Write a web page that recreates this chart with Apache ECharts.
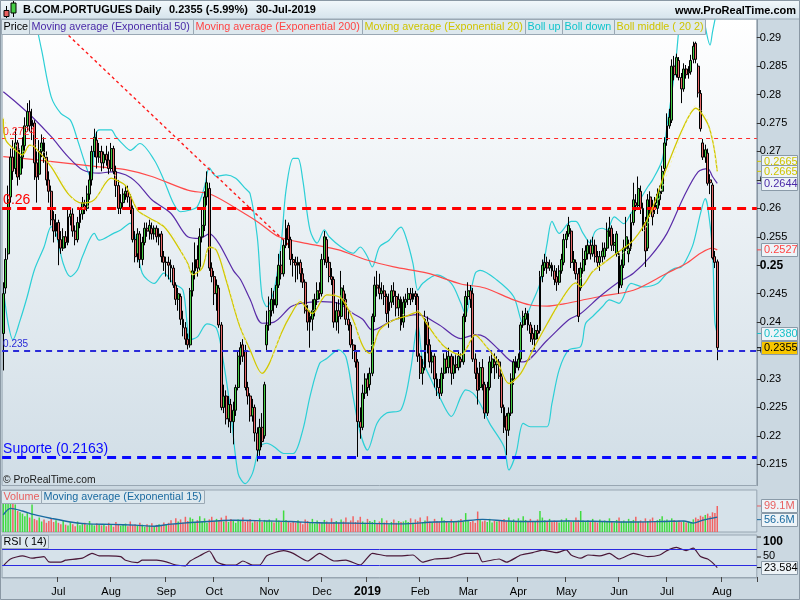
<!DOCTYPE html>
<html><head><meta charset="utf-8">
<script src="https://cdn.jsdelivr.net/npm/echarts@6/dist/echarts.min.js"></script>
<style>html,body{margin:0;padding:0;background:#fff}#c{width:800px;height:600px}</style>
</head><body><div id="c"></div>
<script>
// ---------- DATA ----------
const holidays = ['2018-12-25','2018-12-26','2019-01-01','2019-04-19','2019-04-22','2019-05-01'];
const firstDate = '2018-05-30';
const totalSlots = 315; // 299 trading days + empty future slots
const monthNames = ['Jan','Feb','Mar','Apr','May','Jun','Jul','Aug','Sep','Oct','Nov','Dec'];

const open = [
0.2380,0.2460,0.2520,0.2620,0.2690,0.2670,0.2715,0.2660,0.2690,0.2710,
0.2745,0.2770,0.2745,0.2750,0.2680,0.2660,0.2700,0.2715,0.2690,0.2650,
0.2630,0.2580,0.2560,0.2575,0.2545,0.2530,0.2550,0.2540,0.2585,0.2590,
0.2560,0.2545,0.2575,0.2590,0.2605,0.2600,0.2625,0.2650,0.2700,0.2720,
0.2690,0.2700,0.2680,0.2695,0.2685,0.2670,0.2705,0.2665,0.2640,0.2600,
0.2610,0.2625,0.2630,0.2620,0.2600,0.2545,0.2520,0.2555,0.2510,0.2540,
0.2565,0.2560,0.2565,0.2555,0.2565,0.2550,0.2555,0.2515,0.2505,0.2505,
0.2500,0.2495,0.2465,0.2440,0.2445,0.2405,0.2390,0.2370,0.2360,0.2455,
0.2490,0.2510,0.2495,0.2550,0.2570,0.2620,0.2635,0.2495,0.2480,0.2450,
0.2460,0.2395,0.2250,0.2270,0.2230,0.2255,0.2225,0.2245,0.2285,0.2340,
0.2360,0.2350,0.2285,0.2270,0.2235,0.2250,0.2205,0.2175,0.2215,0.2200,
0.2360,0.2395,0.2420,0.2440,0.2430,0.2465,0.2500,0.2485,0.2535,0.2570,
0.2545,0.2510,0.2505,0.2500,0.2505,0.2485,0.2470,0.2420,0.2400,0.2405,
0.2420,0.2440,0.2455,0.2450,0.2510,0.2545,0.2505,0.2480,0.2475,0.2400,
0.2420,0.2410,0.2455,0.2440,0.2405,0.2395,0.2360,0.2350,0.2330,0.2225,
0.2215,0.2275,0.2300,0.2290,0.2310,0.2410,0.2465,0.2460,0.2450,0.2455,
0.2445,0.2420,0.2435,0.2455,0.2445,0.2425,0.2440,0.2400,0.2435,0.2440,
0.2450,0.2440,0.2450,0.2445,0.2340,0.2310,0.2320,0.2400,0.2360,0.2330,
0.2340,0.2300,0.2285,0.2275,0.2310,0.2335,0.2320,0.2340,0.2310,0.2325,
0.2320,0.2335,0.2330,0.2410,0.2445,0.2455,0.2450,0.2335,0.2310,0.2285,
0.2320,0.2290,0.2240,0.2285,0.2320,0.2330,0.2325,0.2330,0.2305,0.2250,
0.2235,0.2210,0.2240,0.2300,0.2330,0.2320,0.2335,0.2395,0.2405,0.2415,
0.2395,0.2380,0.2370,0.2385,0.2385,0.2480,0.2495,0.2505,0.2495,0.2500,
0.2490,0.2480,0.2470,0.2490,0.2505,0.2545,0.2555,0.2560,0.2505,0.2505,
0.2485,0.2460,0.2490,0.2510,0.2520,0.2535,0.2520,0.2535,0.2515,0.2505,
0.2515,0.2515,0.2530,0.2560,0.2565,0.2535,0.2520,0.2520,0.2465,0.2500,
0.2530,0.2520,0.2530,0.2575,0.2610,0.2605,0.2630,0.2600,0.2575,0.2530,
0.2620,0.2600,0.2610,0.2600,0.2615,0.2630,0.2670,0.2720,0.2745,0.2755,
0.2850,0.2835,0.2860,0.2830,0.2810,0.2845,0.2838,0.2840,0.2862,0.2890,
0.2850,0.2802,0.2715,0.2690,0.2697,0.2650,0.2641,0.2515,0.2506];

const high = [
0.2470,0.2530,0.2640,0.2705,0.2720,0.2740,0.2720,0.2705,0.2725,0.2760,
0.2785,0.2790,0.2775,0.2755,0.2700,0.2720,0.2730,0.2725,0.2700,0.2665,
0.2640,0.2595,0.2590,0.2580,0.2560,0.2565,0.2560,0.2600,0.2600,0.2600,
0.2570,0.2585,0.2600,0.2620,0.2615,0.2640,0.2665,0.2710,0.2740,0.2735,
0.2715,0.2710,0.2700,0.2710,0.2700,0.2715,0.2710,0.2675,0.2650,0.2625,
0.2635,0.2640,0.2640,0.2625,0.2605,0.2560,0.2565,0.2560,0.2550,0.2575,
0.2575,0.2580,0.2575,0.2570,0.2570,0.2565,0.2560,0.2525,0.2515,0.2515,
0.2510,0.2500,0.2470,0.2460,0.2450,0.2420,0.2400,0.2380,0.2460,0.2505,
0.2540,0.2535,0.2565,0.2600,0.2630,0.2665,0.2645,0.2505,0.2490,0.2475,
0.2465,0.2400,0.2290,0.2280,0.2270,0.2265,0.2260,0.2290,0.2350,0.2365,
0.2370,0.2360,0.2295,0.2275,0.2265,0.2255,0.2215,0.2230,0.2240,0.2295,
0.2420,0.2445,0.2460,0.2455,0.2480,0.2520,0.2525,0.2545,0.2580,0.2575,
0.2550,0.2520,0.2515,0.2515,0.2510,0.2495,0.2475,0.2430,0.2420,0.2440,
0.2450,0.2470,0.2470,0.2520,0.2560,0.2550,0.2515,0.2495,0.2480,0.2435,
0.2440,0.2490,0.2465,0.2450,0.2420,0.2400,0.2370,0.2360,0.2335,0.2250,
0.2290,0.2310,0.2310,0.2320,0.2415,0.2480,0.2490,0.2485,0.2470,0.2465,
0.2450,0.2450,0.2465,0.2470,0.2455,0.2450,0.2445,0.2445,0.2450,0.2460,
0.2460,0.2460,0.2455,0.2450,0.2345,0.2335,0.2420,0.2410,0.2370,0.2350,
0.2345,0.2310,0.2300,0.2320,0.2345,0.2350,0.2355,0.2345,0.2340,0.2345,
0.2350,0.2345,0.2415,0.2455,0.2470,0.2465,0.2460,0.2345,0.2320,0.2330,
0.2335,0.2295,0.2295,0.2340,0.2350,0.2345,0.2340,0.2335,0.2310,0.2255,
0.2240,0.2250,0.2310,0.2335,0.2340,0.2345,0.2400,0.2420,0.2425,0.2420,
0.2400,0.2390,0.2395,0.2395,0.2490,0.2510,0.2520,0.2515,0.2510,0.2505,
0.2500,0.2495,0.2500,0.2520,0.2555,0.2560,0.2585,0.2565,0.2525,0.2510,
0.2495,0.2505,0.2530,0.2535,0.2545,0.2545,0.2550,0.2545,0.2525,0.2525,
0.2540,0.2540,0.2575,0.2585,0.2570,0.2555,0.2560,0.2525,0.2510,0.2545,
0.2585,0.2545,0.2590,0.2645,0.2625,0.2656,0.2640,0.2610,0.2585,0.2625,
0.2630,0.2615,0.2620,0.2635,0.2640,0.2675,0.2725,0.2767,0.2775,0.2862,
0.2868,0.2872,0.2866,0.2838,0.2855,0.2852,0.2850,0.2870,0.2893,0.2893,
0.2855,0.2808,0.2722,0.2712,0.2705,0.2660,0.2645,0.2525,0.2510];

const low = [
0.2315,0.2450,0.2510,0.2610,0.2650,0.2660,0.2640,0.2650,0.2670,0.2700,
0.2735,0.2735,0.2720,0.2650,0.2610,0.2650,0.2690,0.2680,0.2640,0.2610,
0.2570,0.2540,0.2550,0.2500,0.2520,0.2525,0.2530,0.2535,0.2570,0.2550,
0.2535,0.2540,0.2565,0.2580,0.2590,0.2595,0.2615,0.2640,0.2690,0.2670,
0.2680,0.2665,0.2670,0.2675,0.2660,0.2665,0.2660,0.2620,0.2590,0.2590,
0.2600,0.2615,0.2610,0.2590,0.2540,0.2505,0.2505,0.2495,0.2500,0.2535,
0.2550,0.2545,0.2545,0.2545,0.2540,0.2535,0.2505,0.2490,0.2480,0.2475,
0.2470,0.2460,0.2430,0.2420,0.2395,0.2375,0.2360,0.2352,0.2355,0.2445,
0.2475,0.2480,0.2490,0.2540,0.2560,0.2605,0.2490,0.2470,0.2430,0.2420,
0.2390,0.2245,0.2240,0.2220,0.2215,0.2205,0.2185,0.2235,0.2280,0.2325,
0.2330,0.2280,0.2255,0.2225,0.2225,0.2190,0.2155,0.2165,0.2180,0.2195,
0.2350,0.2385,0.2410,0.2415,0.2425,0.2460,0.2475,0.2480,0.2530,0.2530,
0.2500,0.2480,0.2470,0.2475,0.2470,0.2460,0.2415,0.2385,0.2355,0.2385,
0.2410,0.2430,0.2440,0.2445,0.2500,0.2495,0.2470,0.2465,0.2390,0.2385,
0.2380,0.2405,0.2430,0.2395,0.2385,0.2355,0.2335,0.2320,0.2163,0.2195,
0.2210,0.2265,0.2270,0.2280,0.2305,0.2400,0.2445,0.2440,0.2440,0.2430,
0.2400,0.2390,0.2425,0.2430,0.2410,0.2405,0.2385,0.2390,0.2425,0.2430,
0.2430,0.2435,0.2430,0.2330,0.2300,0.2290,0.2315,0.2345,0.2320,0.2310,
0.2285,0.2270,0.2265,0.2270,0.2300,0.2310,0.2310,0.2290,0.2300,0.2310,
0.2315,0.2320,0.2325,0.2400,0.2430,0.2425,0.2330,0.2300,0.2255,0.2280,
0.2280,0.2230,0.2235,0.2280,0.2310,0.2300,0.2310,0.2300,0.2240,0.2205,
0.2166,0.2200,0.2235,0.2290,0.2310,0.2315,0.2330,0.2390,0.2395,0.2385,
0.2365,0.2360,0.2350,0.2370,0.2380,0.2470,0.2490,0.2485,0.2490,0.2480,
0.2465,0.2455,0.2465,0.2485,0.2500,0.2530,0.2550,0.2495,0.2490,0.2475,
0.2400,0.2455,0.2485,0.2500,0.2510,0.2510,0.2515,0.2505,0.2495,0.2490,
0.2505,0.2510,0.2525,0.2550,0.2525,0.2525,0.2515,0.2450,0.2460,0.2495,
0.2525,0.2505,0.2525,0.2570,0.2595,0.2600,0.2590,0.2560,0.2497,0.2525,
0.2585,0.2570,0.2590,0.2590,0.2605,0.2625,0.2665,0.2710,0.2740,0.2750,
0.2825,0.2830,0.2825,0.2785,0.2805,0.2828,0.2828,0.2835,0.2855,0.2855,
0.2795,0.2735,0.2685,0.2680,0.2640,0.2625,0.2510,0.2495,0.2333];

const close = [
0.2450,0.2510,0.2615,0.2690,0.2665,0.2715,0.2655,0.2690,0.2710,0.2745,
0.2770,0.2745,0.2755,0.2680,0.2655,0.2700,0.2715,0.2690,0.2650,0.2630,
0.2580,0.2560,0.2575,0.2545,0.2530,0.2550,0.2540,0.2585,0.2590,0.2560,
0.2545,0.2575,0.2590,0.2610,0.2600,0.2625,0.2650,0.2700,0.2725,0.2690,
0.2700,0.2680,0.2695,0.2685,0.2670,0.2705,0.2665,0.2640,0.2600,0.2610,
0.2625,0.2630,0.2620,0.2600,0.2545,0.2515,0.2555,0.2510,0.2540,0.2565,
0.2560,0.2570,0.2555,0.2565,0.2550,0.2555,0.2515,0.2505,0.2505,0.2500,
0.2495,0.2465,0.2440,0.2450,0.2405,0.2390,0.2370,0.2360,0.2455,0.2490,
0.2510,0.2495,0.2550,0.2570,0.2620,0.2645,0.2495,0.2480,0.2450,0.2465,
0.2395,0.2250,0.2270,0.2230,0.2255,0.2225,0.2245,0.2285,0.2340,0.2355,
0.2340,0.2285,0.2270,0.2235,0.2250,0.2205,0.2175,0.2215,0.2190,0.2290,
0.2395,0.2420,0.2440,0.2430,0.2465,0.2500,0.2485,0.2535,0.2565,0.2545,
0.2510,0.2505,0.2500,0.2505,0.2485,0.2470,0.2420,0.2400,0.2410,0.2420,
0.2440,0.2455,0.2450,0.2510,0.2550,0.2505,0.2480,0.2475,0.2400,0.2420,
0.2410,0.2460,0.2440,0.2405,0.2395,0.2360,0.2350,0.2330,0.2225,0.2215,
0.2275,0.2300,0.2285,0.2310,0.2410,0.2465,0.2460,0.2450,0.2455,0.2445,
0.2415,0.2435,0.2455,0.2445,0.2425,0.2440,0.2395,0.2435,0.2440,0.2450,
0.2440,0.2450,0.2445,0.2340,0.2310,0.2320,0.2405,0.2360,0.2330,0.2340,
0.2300,0.2285,0.2275,0.2310,0.2335,0.2320,0.2340,0.2310,0.2325,0.2320,
0.2340,0.2330,0.2410,0.2445,0.2455,0.2440,0.2335,0.2310,0.2280,0.2320,
0.2290,0.2240,0.2285,0.2330,0.2335,0.2325,0.2330,0.2305,0.2250,0.2215,
0.2210,0.2240,0.2300,0.2330,0.2320,0.2335,0.2395,0.2410,0.2415,0.2395,
0.2380,0.2370,0.2385,0.2380,0.2480,0.2500,0.2505,0.2495,0.2500,0.2490,
0.2475,0.2470,0.2490,0.2510,0.2545,0.2555,0.2570,0.2505,0.2510,0.2485,
0.2410,0.2495,0.2510,0.2525,0.2535,0.2520,0.2535,0.2515,0.2505,0.2515,
0.2525,0.2530,0.2560,0.2565,0.2535,0.2540,0.2555,0.2460,0.2500,0.2530,
0.2550,0.2530,0.2575,0.2615,0.2605,0.2635,0.2600,0.2570,0.2525,0.2615,
0.2595,0.2585,0.2600,0.2625,0.2630,0.2665,0.2715,0.2745,0.2760,0.2850,
0.2835,0.2865,0.2830,0.2810,0.2845,0.2835,0.2840,0.2860,0.2885,0.2862,
0.2803,0.2740,0.2690,0.2703,0.2644,0.2645,0.2513,0.2505,0.2355];

// volume in millions
const volume = [
125,140,130,115,110,105, 80,75,70,60,72,55, 105,
50,45,55,40,48,35,42,50,38,45,
35,30,45,28,25,38,30,22,40,26,30,35,28,42,30,25,33,28,
25,30,22,35,27,20,38,30,24,28,32,22,40,26,30,24,35,28,20,30,25,33,22,27,30,24,36,28,
35,45,30,52,40,48,36,58,42,55,50,38,45,60,40,52,35,48,58,42,50,
45,55,40,62,38,50,45,35,48,42,55,38,45,50,36,44,40,52,38,46,42,
48,40,36,52,44,38,82,46,40,35,
40,35,45,38,30,48,42,36,50,32,44,38,35,46,40,33,52,38,42,35,48,40,55,36,44,60,38,45,58,40,35,50,42,38,46,33,40,52,36,44,30,38,48,35,42,38,
40,45,38,52,35,48,42,55,38,44,60,40,36,50,42,38,55,45,40,36,48,42,38,44,50,40,72,45,38,42,35,78,48,40,44,38,50,36,42,40,46,
45,50,40,55,42,48,38,52,44,60,46,40,50,42,38,48,80,55,45,40,50,38,44,42,36,48,40,52,45,38,42,55,46,80,44,
40,45,38,50,42,36,48,40,44,38,52,42,36,46,55,40,44,38,50,42,46,58,40,44,38,52,42,48,55,40,45,50,60,44,48,42,52,46,40,44,38,42,36,40,38,
48,55,50,62,58,65,70,60,75,72,99.1];

// indicator readings [trading-day index, value]
const ema200 = [[0,0.2691],[12,0.2686],[27,0.2679],[40,0.2673],[51,0.2668],[62,0.2656],[77,0.2632],[87,0.2624],[101,0.2590],[107,0.2574],[115,0.2550],[127,0.2538],[140,0.2527],[151,0.2510],[163,0.2497],[177,0.2486],[191,0.2467],[201,0.2460],[213,0.2439],[220,0.2430],[227,0.2428],[234,0.2432],[241,0.2438],[249,0.2445],[263,0.2456],[277,0.2486],[285,0.2503],[291,0.2521],[296,0.2530],[298,0.2527]];
const ema50 = [[0,0.2805],[6,0.2784],[12,0.2761],[20,0.2726],[27,0.2691],[33,0.2668],[40,0.2662],[45,0.2664],[51,0.2659],[56,0.2644],[62,0.2615],[70,0.2591],[77,0.2550],[82,0.2547],[86,0.2555],[90,0.2538],[96,0.2491],[99,0.2475],[103,0.2440],[108,0.2398],[113,0.2400],[120,0.2427],[124,0.2433],[133,0.2436],[140,0.2433],[146,0.2415],[150,0.2405],[154,0.2386],[163,0.2404],[173,0.2413],[182,0.2395],[191,0.2371],[197,0.2378],[201,0.2374],[207,0.2351],[213,0.2330],[217,0.2330],[227,0.2368],[236,0.2404],[241,0.2415],[249,0.2445],[256,0.2468],[263,0.2486],[270,0.2515],[277,0.2556],[284,0.2620],[290,0.2664],[294,0.2670],[296,0.2656],[298,0.2644]];
const ema20 = [[0,0.2758],[1,0.2720],[6,0.2699],[8,0.2694],[11,0.2711],[13,0.2708],[20,0.2673],[27,0.2626],[33,0.2609],[38,0.2615],[45,0.2653],[47,0.2650],[51,0.2640],[56,0.2597],[61,0.2583],[67,0.2568],[72,0.2539],[77,0.2503],[79,0.2483],[83,0.2495],[86,0.2532],[89,0.2526],[93,0.2474],[97,0.2415],[99,0.2389],[103,0.2351],[108,0.2310],[111,0.2327],[116,0.2380],[120,0.2413],[124,0.2436],[127,0.2422],[129,0.2415],[135,0.2448],[141,0.2442],[146,0.2404],[149,0.2368],[151,0.2351],[153,0.2345],[157,0.2386],[163,0.2404],[168,0.2410],[173,0.2418],[177,0.2395],[184,0.2357],[191,0.2342],[197,0.2377],[201,0.2360],[206,0.2333],[211,0.2292],[216,0.2310],[221,0.2351],[227,0.2397],[232,0.2433],[239,0.2469],[241,0.2462],[246,0.2489],[251,0.2505],[256,0.2521],[263,0.2544],[270,0.2591],[277,0.2673],[284,0.2744],[289,0.2776],[294,0.2749],[296,0.2720],[297,0.2697],[298,0.2665]];
const bollMid = [[0,0.2760],[8,0.2700],[13,0.2712],[20,0.2680],[27,0.2630],[33,0.2600],[38,0.2612],[45,0.2660],[51,0.2645],[56,0.2600],[61,0.2580],[67,0.2570],[72,0.2545],[77,0.2500],[80,0.2480],[86,0.2528],[89,0.2530],[93,0.2480],[97,0.2420],[103,0.2345],[108,0.2300],[111,0.2320],[116,0.2385],[120,0.2420],[124,0.2440],[129,0.2420],[135,0.2450],[141,0.2445],[146,0.2410],[151,0.2345],[157,0.2380],[163,0.2405],[173,0.2420],[177,0.2400],[184,0.2355],[191,0.2340],[197,0.2380],[201,0.2360],[206,0.2330],[211,0.2290],[216,0.2305],[221,0.2345],[227,0.2390],[232,0.2430],[239,0.2470],[246,0.2490],[251,0.2505],[256,0.2515],[263,0.2535],[270,0.2580],[277,0.2660],[284,0.2740],[289,0.2780],[294,0.2755],[298,0.2665]];
const bollUp = [[0,0.3050],[8,0.3000],[13,0.2935],[16,0.2878],[20,0.2796],[24,0.2767],[28,0.2755],[31,0.2720],[35,0.2668],[37,0.2650],[38,0.2720],[40,0.2738],[45,0.2738],[47,0.2726],[51,0.2708],[53,0.2702],[57,0.2714],[63,0.2685],[67,0.2650],[71,0.2609],[74,0.2594],[78,0.2597],[81,0.2603],[84,0.2638],[86,0.2671],[89,0.2656],[93,0.2659],[97,0.2653],[101,0.2635],[103,0.2626],[106,0.2550],[108,0.2445],[110,0.2427],[113,0.2456],[116,0.2539],[118,0.2632],[121,0.2688],[123,0.2688],[125,0.2650],[128,0.2562],[131,0.2539],[134,0.2562],[136,0.2550],[141,0.2532],[146,0.2521],[149,0.2532],[152,0.2515],[154,0.2497],[157,0.2532],[161,0.2544],[166,0.2567],[168,0.2550],[171,0.2503],[173,0.2456],[175,0.2468],[181,0.2483],[187,0.2468],[191,0.2433],[193,0.2413],[195,0.2450],[197,0.2486],[199,0.2491],[206,0.2474],[213,0.2445],[217,0.2397],[220,0.2427],[224,0.2468],[227,0.2539],[229,0.2577],[232,0.2556],[237,0.2577],[239,0.2577],[242,0.2556],[245,0.2539],[247,0.2559],[250,0.2565],[252,0.2562],[255,0.2585],[259,0.2573],[262,0.2591],[264,0.2603],[269,0.2638],[271,0.2650],[275,0.2685],[277,0.2744],[279,0.2802],[281,0.2872],[282,0.2915],[284,0.2970],[288,0.3000],[292,0.2940],[295,0.2887],[296,0.2910],[297,0.2931],[298,0.2950]];
const bollDown = [[0,0.2460],[2,0.2398],[4,0.2369],[7,0.2403],[10,0.2445],[13,0.2492],[17,0.2532],[20,0.2568],[22,0.2556],[25,0.2503],[28,0.2480],[31,0.2492],[33,0.2515],[38,0.2556],[40,0.2544],[46,0.2556],[49,0.2562],[53,0.2574],[55,0.2550],[58,0.2486],[63,0.2468],[67,0.2486],[71,0.2468],[75,0.2456],[78,0.2369],[81,0.2374],[85,0.2397],[89,0.2389],[92,0.2327],[95,0.2240],[98,0.2134],[101,0.2116],[104,0.2134],[107,0.2181],[110,0.2187],[113,0.2181],[117,0.2169],[121,0.2169],[125,0.2210],[128,0.2269],[132,0.2327],[135,0.2336],[140,0.2351],[143,0.2339],[146,0.2269],[149,0.2205],[152,0.2175],[156,0.2222],[160,0.2240],[166,0.2246],[170,0.2316],[173,0.2397],[175,0.2333],[178,0.2304],[182,0.2269],[187,0.2234],[191,0.2269],[193,0.2281],[196,0.2275],[199,0.2257],[203,0.2222],[209,0.2181],[211,0.2140],[214,0.2169],[217,0.2222],[220,0.2216],[224,0.2216],[227,0.2216],[229,0.2257],[232,0.2316],[236,0.2351],[241,0.2357],[243,0.2397],[246,0.2410],[250,0.2427],[253,0.2439],[257,0.2433],[262,0.2468],[267,0.2462],[273,0.2468],[277,0.2486],[280,0.2494],[283,0.2497],[285,0.2509],[288,0.2538],[291,0.2591],[293,0.2617],[294,0.2603],[296,0.2527],[297,0.2400],[298,0.2380]];
const volMA = [[0,65],[3,90],[8,80],[13,66],[20,52],[28,38],[35,31],[45,29],[55,26],[63,22],[70,30],[82,38],[96,45],[110,42],[120,40],[131,35],[145,34],[166,31],[180,38],[190,40],[200,48],[210,42],[221,40],[235,42],[250,40],[263,38],[275,40],[284,42],[288,34],[292,45],[298,56.6]];
const rsi = [[0,28],[3,45],[8,53],[12,47],[17,51],[19,38],[24,37],[26,42],[33,47],[37,59],[40,53],[44,53],[49,51],[51,42],[56,36],[58,42],[64,42],[68,38],[72,30],[76,28],[78,40],[82,53],[86,65],[89,38],[93,30],[97,30],[100,40],[104,30],[107,30],[110,53],[117,66],[121,59],[127,40],[132,59],[138,40],[143,42],[149,30],[154,59],[160,53],[166,53],[171,55],[175,37],[180,45],[186,47],[193,59],[198,59],[200,38],[207,45],[210,37],[216,55],[221,61],[225,67],[231,61],[235,68],[237,55],[241,47],[244,55],[249,53],[253,59],[257,45],[263,59],[269,51],[274,55],[277,66],[281,74],[285,66],[288,72],[291,51],[294,45],[296,36],[298,23.584]];

const priceTicks = [0.215,0.22,0.225,0.23,0.235,0.24,0.245,0.25,0.255,0.26,0.265,0.27,0.275,0.28,0.285,0.29];
const levels = {resist: 0.2723, resistLabel: '0.2724', mid: 0.26, support1: 0.235, support2: 0.2163};
const trendline = [[20, 0.2933], [120, 0.2532]]; // [trading-day index, price]
const lastPrice = [
  {v: 0.2665, t: '0.2665', c: '#cfc400', dy: -10},
  {v: 0.2665, t: '0.2665', c: '#cfc400', dy: 0},
  {v: 0.2644, t: '0.2644', c: '#4a2aa8', dy: 0},
  {v: 0.2527, t: '0.2527', c: '#ff4444', dy: 0},
  {v: 0.2380, t: '0.2380', c: '#18c0c8', dy: 0},
  {v: 0.2355, t: '0.2355', c: '#000000', dy: 0, bg: '#f7c600'}
];
const lastVol = [{v: 99.1, t: '99.1M', c: '#e86060', dy: 0}, {v: 56.6, t: '56.6M', c: '#1a6aa0', dy: 2.5}];
const lastRsi = 23.584;

// ---------- BUILD ----------
function tradingDays(start, count) {
  const out = []; const d = new Date(start + 'T00:00:00Z');
  while (out.length < count) {
    const w = d.getUTCDay(); const s = d.toISOString().slice(0, 10);
    if (w !== 0 && w !== 6 && !holidays.includes(s)) out.push(s);
    d.setUTCDate(d.getUTCDate() + 1);
  }
  return out;
}
const dates = tradingDays(firstDate, totalSlots);
const isMonthStart = (i) => i > 5 && dates[i].slice(0, 7) !== dates[i - 1].slice(0, 7);
const ohlc = open.map((o, i) => [o, close[i], low[i], high[i]]);
const GREEN = '#44cc44', RED = '#e86a6a';
const volData = volume.map((v, i) => ({value: v, itemStyle: {color: close[i] >= open[i] ? '#3fdc3f' : '#f26262'}}));
const FONT = '"Liberation Sans", Arial, sans-serif';

const L = 2.1, W = 754.7;
const grids = [
  {left: L, top: 19, width: W, height: 466.5},
  {left: L, top: 490, width: W, height: 42},
  {left: L, top: 535, width: W, height: 43}
].map((g, k) => Object.assign(g, {show: true, borderColor: '#98a6b2', borderWidth: 1, outerBoundsMode: 'none', containLabel: false,
  backgroundColor: k === 0 ? {type: 'linear', x: 0, y: 0, x2: 0, y2: 1, colorStops: [{offset: 0, color: '#ffffff'}, {offset: 1, color: '#d0dde6'}]} : '#d6e2ea'}));

const catAxis = (gi, showLabels) => ({
  type: 'category', gridIndex: gi, data: dates, boundaryGap: true,
  axisLine: {show: showLabels, lineStyle: {color: '#98a6b2'}},
  axisTick: {show: showLabels, interval: (i) => isMonthStart(i), length: 5, lineStyle: {color: '#444'}},
  axisLabel: {show: showLabels, interval: (i) => isMonthStart(i),
    color: '#000', fontSize: 11, fontFamily: FONT, margin: 8,
    formatter: (v) => { const m = +v.slice(5, 7); return m === 1 ? '{b|' + v.slice(0, 4) + '}' : monthNames[m - 1]; },
    rich: {b: {fontWeight: 'bold', fontSize: 12, fontFamily: FONT, color: '#000'}}},
  splitLine: {show: false}
});

const lineS = (data, color, width, z, extra) => Object.assign({
  type: 'line', xAxisIndex: 0, yAxisIndex: 0, data, showSymbol: false, symbol: 'none', smooth: 0.3,
  lineStyle: {color, width}, z, silent: true
}, extra || {});

const hl = (y, color, width, dash, text, size) => ({
  yAxis: y, lineStyle: {color, width, type: dash},
  label: {show: true, formatter: text, position: 'insideStartTop', distance: [1, 1], color, fontSize: size, fontFamily: FONT}
});

const option = {
  animation: false,
  backgroundColor: '#cbd8e1',
  grid: grids,
  xAxis: [catAxis(0, false), catAxis(1, false), catAxis(2, true)],
  yAxis: [
    {type: 'value', gridIndex: 0, position: 'right', min: 0.21127, max: 0.29329,
      axisLine: {show: true, lineStyle: {color: '#8a98a4'}},
      axisTick: {show: true, length: 4, customValues: priceTicks, lineStyle: {color: '#333'}},
      axisLabel: {customValues: priceTicks, color: '#000', fontSize: 11, fontFamily: FONT, margin: 3,
        formatter: (v) => { const s = (+(+v).toFixed(4)).toString(); return s === '0.25' ? '{b|0.25}' : s; },
        rich: {b: {fontWeight: 'bold', fontSize: 12, fontFamily: FONT, color: '#000'}}},
      splitLine: {show: false}},
    {type: 'value', gridIndex: 1, min: 0, max: 160, show: false, splitLine: {show: false}},
    {type: 'value', gridIndex: 2, min: -2.5, max: 105, show: false, splitLine: {show: false}}
  ],
  series: [
    lineS(bollUp, '#2ccfd6', 1.2, 3),
    lineS(bollDown, '#2ccfd6', 1.2, 3),
    lineS(ema200, '#ff4a4a', 1.2, 3),
    lineS(ema50, '#5a2ca8', 1.2, 3),
    // resistance trendline (dotted red diagonal)
    {type: 'line', xAxisIndex: 0, yAxisIndex: 0, data: trendline, showSymbol: false, symbol: 'none', smooth: false,
      lineStyle: {color: '#ff1a1a', width: 1.4, type: [3, 3]}, z: 3, silent: true},
    {type: 'candlestick', xAxisIndex: 0, yAxisIndex: 0, data: ohlc, barWidth: 2.4, z: 4, silent: true,
      itemStyle: {color: GREEN, color0: RED, borderColor: '#000', borderColor0: '#000', borderWidth: 1},
      markLine: {silent: true, symbol: ['none', 'none'], animation: false, precision: 5,
        data: [
          hl(levels.resist, '#ff2a2a', 1, [4, 4], levels.resistLabel, 10.5),
          hl(levels.mid, '#ff0000', 3, [9, 6], '0.26', 14),
          hl(levels.support1, '#2a2ad8', 2, [6, 5], '0.235', 10),
          hl(levels.support2, '#0a0aff', 3, [9, 6], 'Suporte (0.2163)', 14)
        ]}},
    lineS(ema20, '#d2c800', 1.3, 5),
    lineS(bollMid, '#f4f0a8', 1, 6, {lineStyle: {color: '#f6f2b0', width: 1, type: [2, 3]}}),
    {type: 'bar', xAxisIndex: 1, yAxisIndex: 1, data: volData, barWidth: 1.5, silent: true, z: 3},
    {type: 'line', xAxisIndex: 1, yAxisIndex: 1, data: volMA, showSymbol: false, symbol: 'none', smooth: 0.3,
      lineStyle: {color: '#1a6aa0', width: 1.4}, z: 4, silent: true},
    {type: 'line', xAxisIndex: 2, yAxisIndex: 2, data: rsi, showSymbol: false, symbol: 'none', smooth: 0.2,
      lineStyle: {color: '#4a1838', width: 1.2}, z: 4, silent: true,
      markLine: {silent: true, symbol: ['none', 'none'], label: {show: false}, precision: 2,
        lineStyle: {color: '#2a2ae0', width: 1, type: 'solid'}, data: [{yAxis: 70}, {yAxis: 30}]}}
  ]
};

const chart = echarts.init(document.getElementById('c'), null, {renderer: 'canvas', width: 800, height: 600});
chart.setOption(option);

// ---------- OVERLAY (header, legends, value boxes) ----------
const T = (x, y, text, color, size, opts) => ({
  type: 'text', x, y, silent: true, z: 120,
  style: {text, fill: color, font: (opts && opts.bold ? 'bold ' : '') + size + 'px ' + FONT,
    textAlign: (opts && opts.align) || 'left', align: (opts && opts.align) || 'left',
    textVerticalAlign: 'middle', verticalAlign: 'middle'}
});
const R = (x, y, w, h, fill, stroke, z) => ({type: 'rect', silent: true, z: z || 110,
  shape: {x, y, width: w, height: h}, style: {fill, stroke: stroke || null, lineWidth: 1}});
const Ln = (x1, y1, x2, y2, stroke, w, z) => ({type: 'line', silent: true, z: z || 115,
  shape: {x1, y1, x2, y2}, style: {stroke, lineWidth: w || 1}});

const g = [];
// header
g.push({type: 'rect', silent: true, z: 110, shape: {x: 0, y: 0, width: 800, height: 19},
  style: {fill: {type: 'linear', x: 0, y: 0, x2: 0, y2: 1, colorStops: [{offset: 0, color: '#f3f9fc'}, {offset: 1, color: '#d5e3ec'}]}, stroke: '#9aa8b4', lineWidth: 1}});
g.push(Ln(6.5, 6, 6.5, 18, '#000'), R(4, 10.5, 5, 6, '#e86060', '#000', 116));
g.push(Ln(13.5, 1, 13.5, 17, '#000'), R(11, 3, 5, 10, '#44cc44', '#000', 116));
g.push(T(23, 10, 'B.COM.PORTUGUES', '#000', 11, {bold: true}));
g.push(T(135, 10, 'Daily', '#000', 11, {bold: true}));
g.push(T(169, 10, '0.2355 (-5.99%)', '#000', 11, {bold: true}));
g.push(T(256, 10, '30-Jul-2019', '#000', 11, {bold: true}));
g.push(T(796, 11, 'www.ProRealTime.com', '#000', 11, {bold: true, align: 'right'}));
// legend row
const leg = [['Price', '#000', 1, 28], ['Moving average (Exponential 50)', '#4a2aa8', 29, 164], ['Moving average (Exponential 200)', '#ff4444', 193, 169],
  ['Moving average (Exponential 20)', '#cfc400', 362, 163], ['Boll up', '#10c4cc', 525, 37], ['Boll down', '#10c4cc', 562, 52], ['Boll middle ( 20 2)', '#cfc400', 614, 91]];
leg.forEach(([t, c, x, w]) => { g.push(R(x + 0.5, 19.5, w, 15, '#dde8ee', '#9aa8b4')); g.push(T(x + 2.5, 27.5, t, c, 10.8)); });
// volume / rsi legends
g.push(R(1.5, 490.5, 40, 13, '#dde8ee', '#9aa8b4'), T(3.5, 497.5, 'Volume', '#e86060', 10.8));
g.push(R(41.5, 490.5, 163, 13, '#dde8ee', '#9aa8b4'), T(43.5, 497.5, 'Moving average (Exponential 15)', '#1a6aa0', 10.8));
g.push(R(1.5, 535.5, 47, 13, '#dde8ee', '#9aa8b4'), T(3.5, 542.5, 'RSI ( 14)', '#000', 10.8));
// copyright
g.push(T(3, 480, '\u00a9 ProRealTime.com', '#1a1a1a', 10.3));

const valBox = (y, text, color, bg) => {
  g.push(Ln(757, y, 761, y, color, 1, 118));
  g.push(R(761.5, Math.round(y - 6.5) + 0.5, 36, 13, bg || '#eef4f8', '#8a9aa8', 119));
  g.push(T(764, Math.round(y - 6.5) + 7, text, color, 11));
};
lastPrice.forEach(b => { const y = chart.convertToPixel({yAxisIndex: 0}, b.v) + b.dy; valBox(y, b.t, b.c, b.bg); });
lastVol.forEach(b => { const y = chart.convertToPixel({yAxisIndex: 1}, b.v) + b.dy; valBox(y, b.t, b.c); });
const y100 = chart.convertToPixel({yAxisIndex: 2}, 100);
const y50 = chart.convertToPixel({yAxisIndex: 2}, 50);
g.push(Ln(757, y100, 761, y100, '#333', 1, 118), T(763, y100 + 5, '100', '#000', 12, {bold: true}));
g.push(Ln(757, y50, 761, y50, '#333', 1, 118), T(763, y50 - 1, '50', '#000', 11));
valBox(chart.convertToPixel({yAxisIndex: 2}, lastRsi), String(lastRsi), '#000');
// outer frame
g.push({type: 'rect', silent: true, z: 130, shape: {x: 0.5, y: 0.5, width: 799, height: 599}, style: {fill: null, stroke: '#8a98a4', lineWidth: 1}});

chart.setOption({graphic: {elements: g}});
</script></body></html>
